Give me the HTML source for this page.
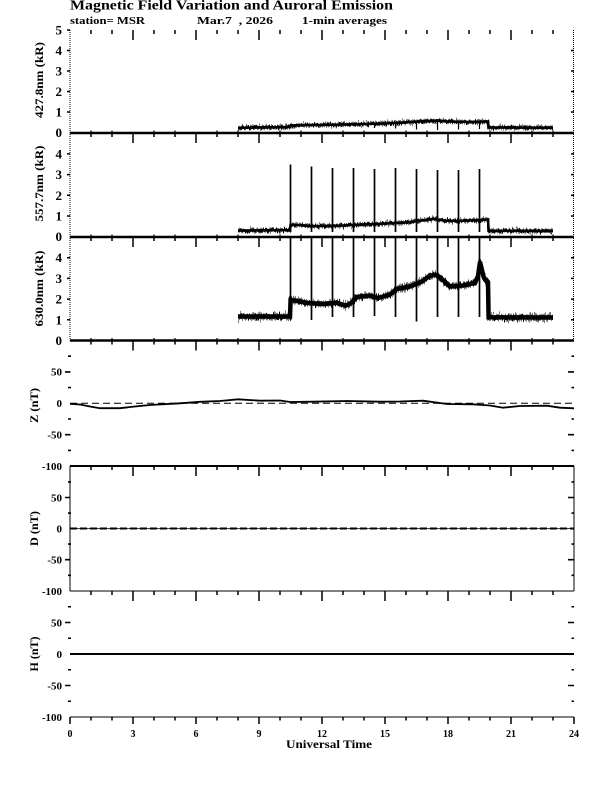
<!DOCTYPE html>
<html><head><meta charset="utf-8"><style>
html,body{margin:0;padding:0;background:#fff;}
svg{display:block;}
text{font-family:"Liberation Serif",serif;font-weight:bold;fill:#000;}
</style></head><body>
<svg width="612" height="792" viewBox="0 0 612 792" xmlns="http://www.w3.org/2000/svg">
<rect width="612" height="792" fill="#fff"/>
<defs>
<path id="tt" d="M133 0v10M196 0v10M259 0v10M322 0v10M385 0v10M448 0v10M511 0v10M91 0v4M112 0v4M154 0v4M175 0v4M217 0v4M238 0v4M280 0v4M301 0v4M343 0v4M364 0v4M406 0v4M427 0v4M469 0v4M490 0v4M532 0v4M553 0v4" stroke="#000" stroke-width="1.5" fill="none"/>
<path id="bt" d="M91 0v-2.5M112 0v-2.5M154 0v-2.5M175 0v-2.5M217 0v-2.5M238 0v-2.5M280 0v-2.5M301 0v-2.5M343 0v-2.5M364 0v-2.5M406 0v-2.5M427 0v-2.5M469 0v-2.5M490 0v-2.5M532 0v-2.5M553 0v-2.5" stroke="#000" stroke-width="1.2" fill="none"/>
<filter id="jA" filterUnits="userSpaceOnUse" x="220" y="100" width="360" height="240" color-interpolation-filters="sRGB">
<feTurbulence type="fractalNoise" baseFrequency="1.3 0.01" numOctaves="2" seed="3" result="t"/>
<feComponentTransfer in="t" result="t2"><feFuncR type="linear" slope="0" intercept="0.5"/></feComponentTransfer>
<feDisplacementMap in="SourceGraphic" in2="t2" scale="9" xChannelSelector="R" yChannelSelector="G"/>
</filter>
<filter id="jB" filterUnits="userSpaceOnUse" x="220" y="100" width="360" height="240" color-interpolation-filters="sRGB">
<feTurbulence type="fractalNoise" baseFrequency="1.1 0.01" numOctaves="2" seed="17" result="t"/>
<feComponentTransfer in="t" result="t2"><feFuncR type="linear" slope="0" intercept="0.5"/></feComponentTransfer>
<feDisplacementMap in="SourceGraphic" in2="t2" scale="9" xChannelSelector="R" yChannelSelector="B"/>
</filter>
<filter id="jC" filterUnits="userSpaceOnUse" x="220" y="230" width="360" height="110" color-interpolation-filters="sRGB">
<feTurbulence type="fractalNoise" baseFrequency="1.2 0.01" numOctaves="2" seed="29" result="t"/>
<feComponentTransfer in="t" result="t2"><feFuncR type="linear" slope="0" intercept="0.5"/></feComponentTransfer>
<feDisplacementMap in="SourceGraphic" in2="t2" scale="14" xChannelSelector="R" yChannelSelector="G"/>
</filter>
<filter id="jD" filterUnits="userSpaceOnUse" x="220" y="230" width="360" height="110" color-interpolation-filters="sRGB">
<feTurbulence type="fractalNoise" baseFrequency="1.0 0.01" numOctaves="2" seed="41" result="t"/>
<feComponentTransfer in="t" result="t2"><feFuncR type="linear" slope="0" intercept="0.5"/></feComponentTransfer>
<feDisplacementMap in="SourceGraphic" in2="t2" scale="14" xChannelSelector="R" yChannelSelector="B"/>
</filter>
<polyline id="p1" fill="none" stroke="#000" points="238,127.8 290,127 290.5,125.5 301,125.2 322,125 343,124.5 364,124 385,123.5 406,122.3 427,121 437,120.5 448,121.5 469,122 488,121.5 488.5,127.5 553,127.8"/>
<polyline id="p2" fill="none" stroke="#000" points="238,230.6 290,230 290.6,224.8 301,225.2 311,226.3 322,226 343,225.5 364,224.5 385,223.5 406,222.5 427,219.8 433,218.8 444,220.5 458,221 479,220 488,219.5 488.6,230.8 553,231"/>
<polyline id="p3" fill="none" stroke="#000" points="238,316.5 290,316.5 290.6,300 298,301 307,303 323,304 337,302.7 345,305.5 350,304 357,297 370,295.5 378,298 390,294.5 397,289 410,286.5 422,281.5 430,275.5 437,275 443,280 450,286.5 463,285.5 475,283 478,276 480,262 481.5,268 483.5,276.5 487.5,283 488,283 488.6,317.3 553,317.5"/>
</defs>

<!-- Title -->
<text x="70" y="9.5" font-size="14" textLength="323" lengthAdjust="spacingAndGlyphs">Magnetic Field Variation and Auroral Emission</text>
<text x="70" y="24" font-size="10.5" textLength="75" lengthAdjust="spacingAndGlyphs">station= MSR</text>
<text x="197" y="24" font-size="10.5" textLength="76" lengthAdjust="spacingAndGlyphs" xml:space="preserve">Mar.7  , 2026</text>
<text x="302" y="24" font-size="10.5" textLength="85" lengthAdjust="spacingAndGlyphs">1-min averages</text>

<!-- dotted side axes panels 1-3 -->
<path d="M70 30V340.5M573.5 30V340.5" stroke="#000" stroke-width="1" stroke-dasharray="1 1" fill="none"/>
<!-- panel 5 side lines -->
<path d="M70 466V591M574 466V591" stroke="#000" stroke-width="1" fill="none"/>

<!-- horizontal panel lines -->
<path d="M70 133H574M70 237H574M70 340.5H574" stroke="#000" stroke-width="2.5" fill="none"/>
<path d="M70 466H574" stroke="#000" stroke-width="2" fill="none"/>
<path d="M70 591H574M70 717H574" stroke="#000" stroke-width="1" fill="none"/>

<!-- top ticks -->
<use href="#tt" transform="translate(0,30)"/>
<use href="#tt" transform="translate(0,133)"/>
<use href="#tt" transform="translate(0,237)"/>
<use href="#tt" transform="translate(0,340.5)"/>
<use href="#tt" transform="translate(0,466)"/>
<use href="#tt" transform="translate(0,591)"/>
<use href="#bt" transform="translate(0,133)"/>
<use href="#bt" transform="translate(0,237)"/>
<use href="#bt" transform="translate(0,340.5)"/>

<!-- bottom axis ticks -->
<path d="M70 717v7M133 717v7M196 717v7M259 717v7M322 717v7M385 717v7M448 717v7M511 717v7M574 717v7M91 717v3.5M112 717v3.5M154 717v3.5M175 717v3.5M217 717v3.5M238 717v3.5M280 717v3.5M301 717v3.5M343 717v3.5M364 717v3.5M406 717v3.5M427 717v3.5M469 717v3.5M490 717v3.5M532 717v3.5M553 717v3.5" stroke="#000" stroke-width="1.5" fill="none"/>

<!-- emission y ticks -->
<path d="M67 30H70M67 50.5H70M67 71H70M67 91.5H70M67 112H70M67 153.9H70M67 174.6H70M67 195.3H70M67 216H70M67 257.7H70M67 278.4H70M67 299.1H70M67 319.8H70
M571 50.5H574M571 71H574M571 91.5H574M571 112H574M571 153.9H574M571 174.6H574M571 195.3H574M571 216H574M571 257.7H574M571 278.4H574M571 299.1H574M571 319.8H574" stroke="#000" stroke-width="1.5" fill="none"/>

<!-- mag y ticks -->
<path d="M65 371.9H70.5M65 434.7H70.5M65 497.5H70.5M65 559.7H70.5M65 622.5H70.5M65 685.5H70.5
M68 356.2H71M68 387.6H71M68 419H71M68 450.4H71M68 481.9H71M68 513.1H71M68 544.1H71M68 575.3H71M68 606.75H71M68 638.25H71M68 669.75H71M68 701.25H71
M568 371.9H574M568 434.7H574M568 497.5H574M568 559.7H574M568 622.5H574M568 685.5H574
M571.5 356.2H574M571.5 387.6H574M571.5 419H574M571.5 450.4H574M571.5 481.9H574M571.5 513.1H574M571.5 544.1H574M571.5 575.3H574M571.5 606.75H574M571.5 638.25H574M571.5 669.75H574M571.5 701.25H574" stroke="#000" stroke-width="1.6" fill="none"/>

<!-- emission tick labels -->
<g font-size="13" text-anchor="end">
<text x="62" y="34.5">5</text><text x="62" y="55">4</text><text x="62" y="75.5">3</text><text x="62" y="96">2</text><text x="62" y="116.5">1</text><text x="62" y="137">0</text>
<text x="62" y="158.4">4</text><text x="62" y="179.1">3</text><text x="62" y="199.8">2</text><text x="62" y="220.5">1</text><text x="62" y="241.2">0</text>
<text x="62" y="262.2">4</text><text x="62" y="282.9">3</text><text x="62" y="303.6">2</text><text x="62" y="324.3">1</text><text x="62" y="345">0</text>
</g>
<!-- mag tick labels -->
<g font-size="11" text-anchor="end">
<text x="62" y="375.7">50</text><text x="62" y="407.1">0</text><text x="62" y="438.5">-50</text><text x="62" y="469.8">-100</text>
<text x="62" y="501.3">50</text><text x="62" y="532.3">0</text><text x="62" y="563.5">-50</text><text x="62" y="594.8">-100</text>
<text x="62" y="626.3">50</text><text x="62" y="657.8">0</text><text x="62" y="689.3">-50</text><text x="62" y="720.8">-100</text>
</g>
<!-- x labels -->
<g font-size="10" text-anchor="middle">
<text x="70" y="737">0</text><text x="133" y="737">3</text><text x="196" y="737">6</text><text x="259" y="737">9</text><text x="322" y="737">12</text><text x="385" y="737">15</text><text x="448" y="737">18</text><text x="511" y="737">21</text><text x="574" y="737">24</text>
</g>
<text x="329" y="748" font-size="12" text-anchor="middle" textLength="86" lengthAdjust="spacingAndGlyphs">Universal Time</text>

<!-- y axis titles -->
<g font-size="12" text-anchor="middle">
<text transform="translate(43,80) rotate(-90)" textLength="76" lengthAdjust="spacingAndGlyphs">427.8nm (kR)</text>
<text transform="translate(43,183.5) rotate(-90)" textLength="76" lengthAdjust="spacingAndGlyphs">557.7nm (kR)</text>
<text transform="translate(43,288.5) rotate(-90)" textLength="76" lengthAdjust="spacingAndGlyphs">630.0nm (kR)</text>
<text transform="translate(38,405.5) rotate(-90)" textLength="35" lengthAdjust="spacingAndGlyphs">Z (nT)</text>
<text transform="translate(38,528.5) rotate(-90)" textLength="35" lengthAdjust="spacingAndGlyphs">D (nT)</text>
<text transform="translate(38,654) rotate(-90)" textLength="35" lengthAdjust="spacingAndGlyphs">H (nT)</text>
</g>

<!-- zero lines mag -->
<path d="M70 403.3H574" stroke="#000" stroke-width="1" stroke-dasharray="7 4" fill="none"/>
<path d="M70 528.5H574" stroke="#000" stroke-width="0.8" fill="none"/>
<path d="M70 528.5H574" stroke="#000" stroke-width="2" stroke-dasharray="7 3" fill="none"/>
<path d="M70 654H574" stroke="#000" stroke-width="2" fill="none"/>

<!-- Z data -->
<polyline fill="none" stroke="#000" stroke-width="1.8" points="70,403.8 80,404.5 90,406.5 100,408.2 120,408.2 135,406.5 150,405 180,403.3 200,401.8 220,401 238,399.3 260,400.7 280,400.5 290,402 313,401.7 347,401 380,401.7 400,401.5 423,400.7 447,404 473,404.3 490,405.5 503,407.7 520,406 547,405.7 560,407.7 574,408.3"/>

<!-- emission bands: solid core + jagged copies -->
<use href="#p1" stroke-width="2.6"/>
<use href="#p1" stroke-width="2.2" filter="url(#jA)"/>
<use href="#p1" stroke-width="2.2" filter="url(#jB)"/>
<use href="#p2" stroke-width="2.6"/>
<use href="#p2" stroke-width="2.2" filter="url(#jA)"/>
<use href="#p2" stroke-width="2.2" filter="url(#jB)"/>
<use href="#p3" stroke-width="4.5"/>
<use href="#p3" stroke-width="3.2" filter="url(#jC)"/>
<use href="#p3" stroke-width="3.2" filter="url(#jD)"/>

<!-- spikes -->
<path fill="none" stroke="#000" stroke-width="1.7" d="M290.5 164.5V232M311.5 166.5V232M332.5 168V232M353.5 168V232M374.5 169V232M395.5 168V232M416.5 169V232M437.5 170V232M458.5 170V232M479.5 169V232"/>
<path fill="none" stroke="#000" stroke-width="1.7" d="M290.5 238V320M311.5 238V320M332.5 238V317M353.5 238V317M374.5 238V316M395.5 238V317M416.5 238V321.5M437.5 238V317M458.5 238V317M479.5 238V317"/>
<path fill="none" stroke="#000" stroke-width="1.2" d="M374.5 123V128M395.5 122V128.5M416.5 121V129.5M437.5 120V130M458.5 121V129.5M479.5 121V129"/>
</svg>
</body></html>
